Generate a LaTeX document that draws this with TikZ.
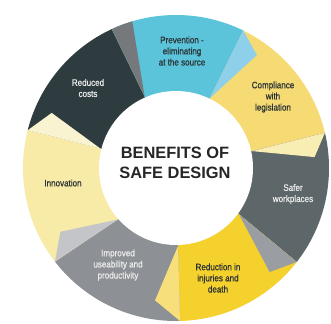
\documentclass[tikz,border=0pt]{standalone}
\usepackage{fontspec}
\setmainfont{Liberation Sans}
\newfontfamily\labelfont[FakeStretch=0.86,FakeBold=0.7]{Liberation Sans}
\usetikzlibrary{calc}

\definecolor{prevblue}{HTML}{5BC3DA}
\definecolor{prevfold}{HTML}{8ECFEA}
\definecolor{complyellow}{HTML}{F6DB74}
\definecolor{complfold}{HTML}{F8EDB2}
\definecolor{safergray}{HTML}{5D676A}
\definecolor{saferfold}{HTML}{9A9EA2}
\definecolor{reducyellow}{HTML}{F5D12E}
\definecolor{reducfold}{HTML}{F7E07C}
\definecolor{usegray}{HTML}{8D9195}
\definecolor{usefold}{HTML}{C3C5C9}
\definecolor{innovyellow}{HTML}{F7EBA7}
\definecolor{innovfold}{HTML}{FAF3D2}
\definecolor{costdark}{HTML}{2F3C3F}
\definecolor{costfold}{HTML}{76797C}
\definecolor{textdark}{HTML}{2C3436}

\begin{document}
\begin{tikzpicture}[x=0.03cm, y=0.03cm,
    seglabel/.style={font=\labelfont\fontsize{8}{9.5}\selectfont, align=center, text=textdark},
    lightlabel/.style={seglabel, text=white!92!black},
    headline/.style={font=\bfseries\fontsize{14}{17}\selectfont, align=center, text=black!85}]
    \useasboundingbox (0,0) rectangle (331,323);
    \coordinate (c) at (176,155);

    % Borders between segments: outer end, inner end, fold tip
    \foreach \n/\ao/\ai/\af/\rf in {1/114.8/113.7/106.5/155, 2/63.9/64/54.4/139,
        3/13.3/12.5/4.5/139, 4/-37.9/-36.3/-48/140, 5/-88.5/-88.5/-99/134,
        6/217.7/221.4/208.9/132, 7/165.7/165.6/156.1/136} {
        \coordinate (o\n) at ($(c)+(\ao:153)$);
        \coordinate (i\n) at ($(c)+(\ai:78)$);
        \coordinate (f\n) at ($(c)+(\af:\rf)$);
        \coordinate (e\n) at ($(i\n)!2.2!(o\n)$);
    }

    \begin{scope}
        \clip (c) circle (4.59cm);
        % Segments
        \fill[costdark] (c) -- (i7) -- (e7) -- (e1) -- (i1) -- cycle;
        \fill[prevblue] (c) -- (i1) -- (e1) -- (e2) -- (i2) -- cycle;
        \fill[complyellow] (c) -- (i2) -- (e2) -- (e3) -- (i3) -- cycle;
        \fill[safergray] (c) -- (i3) -- (e3) -- (e4) -- (i4) -- cycle;
        \fill[reducyellow] (c) -- (i4) -- (e4) -- (e5) -- (i5) -- cycle;
        \fill[usegray] (c) -- (i5) -- (e5) -- (e6) -- (i6) -- cycle;
        \fill[innovyellow] (c) -- (i6) -- (e6) -- (e7) -- (i7) -- cycle;

        % Folded ends
        \fill[costfold] (o1) -- (f1) -- (i1) -- cycle;
        \fill[prevfold] (o2) -- (f2) -- (i2) -- cycle;
        \fill[complfold] (o3) -- (f3) -- (i3) -- cycle;
        \fill[saferfold] (o4) -- (f4) -- (i4) -- cycle;
        \fill[reducfold] (o5) -- (f5) -- (i5) -- cycle;
        \fill[usefold] (o6) -- (f6) -- (i6) -- cycle;
        \fill[innovfold] (o7) -- (f7) -- (i7) -- cycle;
    \end{scope}

    % Centre
    \fill[white] (c) circle (2.31cm);
    \node[headline] (benefits) at (175,160) {BENEFITS OF\\SAFE DESIGN};

    % Labels
    \node[lightlabel] (costs) at (88,235) {Reduced\\costs};
    \node[seglabel] (prevention) at (182,272) {Prevention -\\eliminating\\at the source};
    \node[seglabel] (compliance) at (273,226) {Compliance\\with\\legislation};
    \node[lightlabel] (safer) at (293,129) {Safer\\workplaces};
    \node[seglabel] (reduction) at (218,45) {Reduction in\\injuries and\\death};
    \node[lightlabel] (useability) at (118,58) {Improved\\useability and\\productivity};
    \node[seglabel] (innovation) at (63,140) {Innovation};
\end{tikzpicture}
\end{document}
